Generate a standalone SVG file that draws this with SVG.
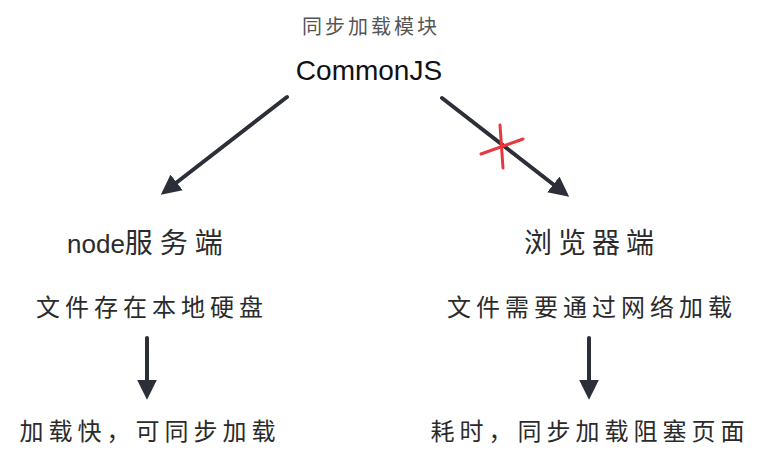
<svg xmlns="http://www.w3.org/2000/svg" width="767" height="468" viewBox="0 0 767 468">
<style>
.t{font-family:"Noto Sans CJK SC","Liberation Sans",sans-serif;fill:#2b2b2b;text-anchor:middle}
.s{font-size:24px;letter-spacing:5px}
.h{font-size:28px}
.c{stroke:#2c2f38;stroke-width:4;fill:none;stroke-linecap:round}
.x{stroke:#e8383d;stroke-width:3;fill:none;stroke-linecap:round}
</style>
<defs>
<marker id="ah" markerUnits="userSpaceOnUse" markerWidth="20" markerHeight="20" viewBox="0 0 18 18" refX="3" refY="9" orient="auto">
<path d="M0,0 L18,9 L0,18 z" fill="#2c2f38"/>
</marker>
</defs>
<rect width="767" height="468" fill="#ffffff"/>
<g id="top">
<text class="t" x="371" y="34" style="font-size:20px;fill:#555;letter-spacing:3px">同步加载模块</text>
<text x="369" y="80" style="font-family:'Liberation Sans',Arial,sans-serif;font-size:28px;fill:#111;text-anchor:middle">CommonJS</text>
</g>
<g id="node-server">
<text class="t h" x="67" y="253" style="text-anchor:start"><tspan style="font-family:'Liberation Sans',sans-serif;font-size:26px">node</tspan><tspan style="letter-spacing:7px">服务端</tspan></text>
<text class="t s" x="152" y="316">文件存在本地硬盘</text>
<text class="t s" x="150" y="440">加载快，可同步加载</text>
</g>
<g id="browser">
<text class="t h" x="592" y="253" style="letter-spacing:6px">浏览器端</text>
<text class="t s" x="592" y="316">文件需要通过网络加载</text>
<text class="t s" x="590" y="440">耗时，同步加载阻塞页面</text>
</g>
<g id="connectors">
<path class="c" d="M287,97 L174,184.5" marker-end="url(#ah)"/>
<path class="c" d="M442,98 L556,186.5" marker-end="url(#ah)"/>
<path class="c" d="M147,338 L147,383" marker-end="url(#ah)"/>
<path class="c" d="M589,338 L589,383" marker-end="url(#ah)"/>
<g id="cross">
<path class="x" d="M481,154 L523,139"/>
<path class="x" d="M500,125 L503,168"/>
</g>
</g>
</svg>
